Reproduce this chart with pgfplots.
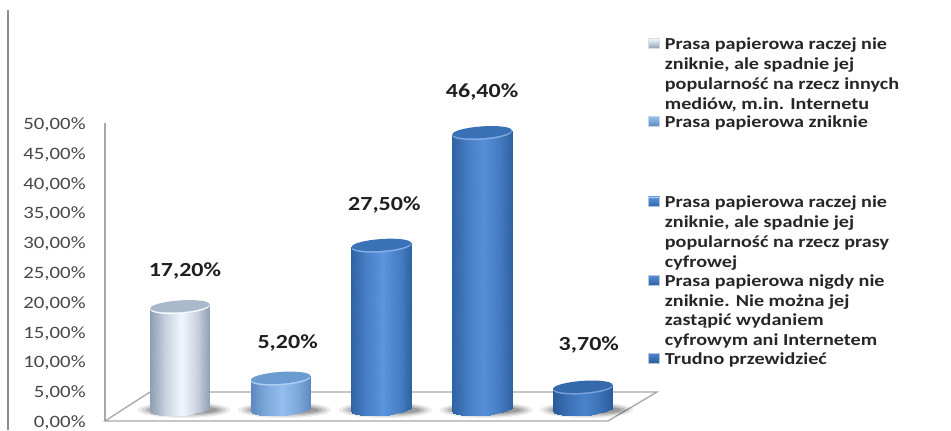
\documentclass[border=0pt]{standalone}
\usepackage{pgfplots}
\pgfplotsset{compat=1.18}
\usepackage{fontspec}
\setmainfont{Carlito}[FakeStretch=1.2]
\definecolor{axisgray}{HTML}{A8A8A8}
\definecolor{edgeA}{HTML}{8E9DB2}\definecolor{midA}{HTML}{F2F7FE}\definecolor{topA}{HTML}{A9B9CB}
\definecolor{edgeB}{HTML}{5C88BD}\definecolor{midB}{HTML}{95BFEF}\definecolor{topB}{HTML}{6C9BD2}
\definecolor{edgeC}{HTML}{2F63A4}\definecolor{midC}{HTML}{5B95DE}\definecolor{topC}{HTML}{3A72B8}
\definecolor{edgeD}{HTML}{2F62A2}\definecolor{midD}{HTML}{568FD8}\definecolor{topD}{HTML}{3A71B6}
\definecolor{edgeE}{HTML}{2A5A9A}\definecolor{midE}{HTML}{4A82CC}\definecolor{topE}{HTML}{3569AC}
\newcommand{\ellpath}[3]{% centre y, half width, half height (pt), tilted by 4 degrees
  \pgfpathellipse{\pgfqpoint{0pt}{#1pt}}{\pgfpointpolar{4}{#2pt}}{\pgfpointpolar{94}{#3pt}}}
\newcommand{\declcyl}[1]{%
  \pgfdeclareplotmark{top#1}{%
    \pgfsetfillcolor{mid#1!75!white}\ellpath{-0.7}{22.3}{4.6}\pgfusepathqfill
    \pgfsetfillcolor{top#1}\ellpath{0.3}{22.3}{4.4}\pgfusepathqfill}%
  \pgfplotsset{colormap={c#1}{color(0cm)=(edge#1) color(1.2cm)=(edge#1!45!mid#1) color(2.6cm)=(mid#1) color(4cm)=(edge#1!45!mid#1) color(5cm)=(edge#1)}}%
}
\declcyl{A}\declcyl{B}\declcyl{C}\declcyl{D}\declcyl{E}
\pgfdeclareplotmark{shadow}{%
  \pgfsetfillcolor{black}%
  \pgfsetfillopacity{.07}\pgfpathellipse{\pgfqpoint{3pt}{0pt}}{\pgfqpoint{35pt}{0pt}}{\pgfqpoint{0pt}{6pt}}\pgfusepathqfill
  \pgfsetfillopacity{.10}\pgfpathellipse{\pgfqpoint{3pt}{0pt}}{\pgfqpoint{32pt}{0pt}}{\pgfqpoint{0pt}{5pt}}\pgfusepathqfill
  \pgfsetfillopacity{.13}\pgfpathellipse{\pgfqpoint{3pt}{0pt}}{\pgfqpoint{29pt}{0pt}}{\pgfqpoint{0pt}{4pt}}\pgfusepathqfill
  \pgfsetfillopacity{.16}\pgfpathellipse{\pgfqpoint{3pt}{0pt}}{\pgfqpoint{26pt}{0pt}}{\pgfqpoint{0pt}{3pt}}\pgfusepathqfill}
% one cylinder: letter, position, value, label shift x and y (in px of the reference), legend text
\newcommand{\cyl}[6]{%
  \addplot[surf,shader=interp,colormap name=c#1,mesh/rows=2,mesh/cols=13,point meta=\thisrow{c},forget plot]
    table[row sep=\\,x expr=#2+\thisrow{u},y expr=\thisrow{t}*#3+\thisrow{d}]{
      u t d c\\
      -.298 0 -.35 0\\ -.288 0 -.605 .017\\ -.258 0 -.818 .067\\ -.211 0 -.975 .146\\ -.149 0 -1.067 .25\\
      -.077 0 -1.086 .371\\ 0 0 -1.03 .5\\ .077 0 -.904 .629\\ .149 0 -.717 .75\\ .211 0 -.481 .854\\
      .258 0 -.212 .933\\ .288 0 .071 .983\\ .298 0 .35 1\\
      -.298 1 -.35 0\\ -.288 1 -.338 .017\\ -.258 1 -.303 .067\\ -.211 1 -.248 .146\\ -.149 1 -.175 .25\\
      -.077 1 -.09 .371\\ 0 1 0 .5\\ .077 1 .09 .629\\ .149 1 .175 .75\\ .211 1 .248 .854\\
      .258 1 .303 .933\\ .288 1 .338 .983\\ .298 1 .35 1\\};
  \addplot[only marks,mark=top#1,
    nodes near coords={\pgfmathprintnumber{\pgfplotspointmeta}\%},
    every node near coord/.style={anchor=center,xshift=#4*0.75pt,yshift=#5*0.75pt,
      font=\fontsize{15}{16}\selectfont\bfseries,text=black!88},
    legend image code/.code={\shade[top color=mid#1,bottom color=edge#1,draw=edge#1!35!white,line width=0.6pt]
      (0pt,-7.9pt) rectangle (8.6pt,-0.7pt);}]
    coordinates {(#2,#3)};
  \addlegendentry{#6}
}
\newcommand{\ent}[1]{\parbox[t]{190pt}{\fontsize{12.6}{14.85}\selectfont\bfseries\color{black!85}#1}}
\begin{document}
\begin{tikzpicture}
\path[use as bounding box] (0,0) rectangle (713.25pt,322.5pt);
\begin{scope}[x=0.75pt,y=-0.75pt,shift={(0pt,322.5pt)}]
  \draw[black!45,line width=1.5pt] (8,10) -- (8,430);
  \draw[axisgray,line width=1pt] (105,421) -- (608,421) -- (657,392) -- (150,392) -- cycle;
\end{scope}
% value axis
\begin{axis}[
  at={(78.75pt,6.75pt)},anchor=south west,
  scale only axis,width=377.25pt,height=223.5pt,
  xmin=0,xmax=1,ymin=0,ymax=50,ytick distance=5,
  axis x line=none,axis y line=left,
  axis line style={-,axisgray,line width=1pt},
  major tick length=0pt,
  /pgf/number format/assume math mode=true,
  /pgf/number format/.cd,fixed,fixed zerofill,precision=2,use comma,1000 sep={},
  /pgfplots/.cd,
  yticklabel={\pgfmathprintnumber{\tick}\%},
  yticklabel style={anchor=east,xshift=-11pt,yshift=-1.2pt,
    font=\fontsize{13}{14}\selectfont,text=black!72},
]
\end{axis}
% shadows on the floor, under the cylinders
\begin{axis}[
  at={(78.75pt,15pt)},anchor=south west,
  scale only axis,width=377.25pt,height=223.5pt,
  hide axis,clip=false,
  xmin=-0.744,xmax=4.25,ymin=0,ymax=50,
]
\addplot[only marks,mark=shadow] coordinates {(0,0) (1,0) (2,0) (3,0) (4,0)};
\end{axis}
% cylinders, their base on the floor of the chart
\begin{axis}[
  at={(78.75pt,15.6pt)},anchor=south west,
  scale only axis,width=377.25pt,height=223.5pt,
  hide axis,clip=false,
  xmin=-0.744,xmax=4.25,ymin=0,ymax=50,
  point meta min=0,point meta max=1,
  /pgf/number format/.cd,fixed,fixed zerofill,precision=2,use comma,assume math mode=true,
  /pgfplots/.cd,
  legend cell align=left,
  legend style={at={(1.0795,1.246)},anchor=north west,draw=none,fill=none,inner sep=0pt,outer sep=0pt,
    row sep=3.4pt,nodes={inner sep=0pt,outer sep=0pt,text depth=,text height=,anchor=base west},
    /tikz/column 1/.style={column sep=3.5pt}},
]
\cyl{A}{0}{17.2}{5}{36}{\ent{Prasa papierowa raczej nie\\zniknie, ale spadnie jej\\popularność na rzecz innych\\mediów, m.in. Internetu}}
\cyl{B}{1}{5.2}{7}{35}{\ent{Prasa papierowa zniknie\\[33pt]\mbox{}}}
\cyl{C}{2}{27.5}{3}{40}{\ent{Prasa papierowa raczej nie\\zniknie, ale spadnie jej\\popularność na rzecz prasy\\cyfrowej}}
\cyl{D}{3}{46.4}{0}{41}{\ent{Prasa papierowa nigdy nie\\zniknie. Nie można jej\\zastąpić wydaniem\\cyfrowym ani Internetem}}
\cyl{E}{4}{3.7}{6}{42}{\ent{Trudno przewidzieć}}
\end{axis}
\end{tikzpicture}
\end{document}
